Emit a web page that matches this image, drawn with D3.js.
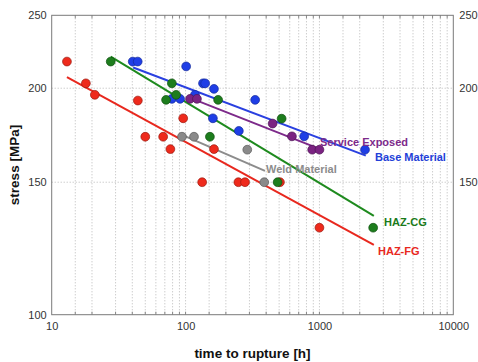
<!DOCTYPE html>
<html>
<head>
<meta charset="utf-8">
<script src="https://cdn.jsdelivr.net/npm/d3@7"></script>
<style>
  html, body { margin: 0; padding: 0; background: #fff; }
  svg { display: block; font-family: "Liberation Sans", Arial, sans-serif; }
</style>
</head>
<body>
<svg id="chart" width="478" height="362"></svg>
<script>
// ---- data ----
const xTickValues = [10, 100, 1000, 10000];
const yTickValues = [100, 150, 200, 250];

const hazFgTime   = [13, 18, 21, 44, 50, 68, 77, 96, 163, 133, 248, 278, 507, 1000];
const hazFgStress = [217, 203, 196, 192.6, 172.4, 172.4, 166, 182.4, 166, 150, 150, 150, 150, 130.5];

const baseTime    = [40.3, 43.9, 101, 135, 140, 163, 117.5, 79, 91, 160, 250, 331, 769, 2190];
const baseStress  = [217, 217, 213.8, 203, 203, 199.6, 196, 193.6, 193.6, 182.4, 175.5, 193, 172.6, 165.7];

const serviceTime   = [108, 121.6, 447, 623, 883, 1000];
const serviceStress = [193.6, 193.6, 179.5, 172.6, 165.7, 165.7];

const weldTime   = [94, 115.6, 289, 387];
const weldStress = [172.4, 172.4, 165.7, 150];

const hazCgTime   = [27.6, 79, 71.5, 85, 175, 152, 522, 487, 2520];
const hazCgStress = [217, 203, 193, 196, 193, 172.4, 182.2, 150, 130.5];

// fitted trend lines (time endpoints, stress endpoints)
const hazFgFitTime = [13, 2550],   hazFgFitStress = [206.9, 123.8];
const baseFitTime = [40.6, 2220],  baseFitStress = [213.1, 162.7];
const serviceFitTime = [108, 1000], serviceFitStress = [194.2, 166.1];
const weldFitTime = [94, 392],     weldFitStress = [173.4, 155.3];
const hazCgFitTime = [27.6, 2550], hazCgFitStress = [220.3, 135.3];

const seriesNames = ["HAZ-FG", "Base Material", "Service Exposed", "Weld Material", "HAZ-CG"];

// ---- styles ----
const styles = {
  "HAZ-FG":          { fill: "#ee2a1c", stroke: "#9a1a10", line: "#e8281e", text: "#e8281e", lx: 378, ly: 255 },
  "Base Material":   { fill: "#1f3ee6", stroke: "#142a9a", line: "#2a40e0", text: "#2240d8", lx: 375, ly: 160.5 },
  "Service Exposed": { fill: "#7b2382", stroke: "#4e1555", line: "#7d2a8a", text: "#7d2a8a", lx: 320, ly: 145.5 },
  "Weld Material":   { fill: "#8a8a8a", stroke: "#5a5a5a", line: "#8c8c8c", text: "#8c8c8c", lx: 266, ly: 173 },
  "HAZ-CG":          { fill: "#1d7d1d", stroke: "#0f4f0f", line: "#1e8a1e", text: "#1a7a1a", lx: 384, ly: 225.5 }
};

const series = [
  { name: "HAZ-FG", t: hazFgTime, s: hazFgStress, ft: hazFgFitTime, fs: hazFgFitStress },
  { name: "Base Material", t: baseTime, s: baseStress, ft: baseFitTime, fs: baseFitStress },
  { name: "Service Exposed", t: serviceTime, s: serviceStress, ft: serviceFitTime, fs: serviceFitStress },
  { name: "Weld Material", t: weldTime, s: weldStress, ft: weldFitTime, fs: weldFitStress },
  { name: "HAZ-CG", t: hazCgTime, s: hazCgStress, ft: hazCgFitTime, fs: hazCgFitStress }
];

// ---- layout ----
const L = 51.7, R = 453.3, T = 15.3, B = 314.7;
const svg = d3.select("#chart");
const x = d3.scaleLog().domain([10, 10000]).range([L, R]);
const y = d3.scaleLog().domain([100, 250]).range([B, T]);

// minor grid values
const minorX = [];
[10, 100, 1000].forEach(d => {
  [1.5, 2, 3, 4, 5, 6, 7, 8, 9].forEach(m => minorX.push(d * m));
  if (d > 10) minorX.push(d);
});

const grid = svg.append("g");
grid.selectAll("line.vx").data(minorX).enter().append("line")
  .attr("x1", d => x(d)).attr("x2", d => x(d))
  .attr("y1", T).attr("y2", B)
  .attr("stroke", "#b8b8b8").attr("stroke-width", 1)
  .attr("stroke-dasharray", "1,2");
grid.selectAll("line.hy").data([150, 200]).enter().append("line")
  .attr("x1", L).attr("x2", R)
  .attr("y1", d => y(d)).attr("y2", d => y(d))
  .attr("stroke", "#b8b8b8").attr("stroke-width", 1)
  .attr("stroke-dasharray", "1,2");

// axes
const fmt = d => String(d);
const axB = d3.axisBottom(x).tickValues(xTickValues).tickFormat(fmt).tickSize(0).tickPadding(8);
const axL = d3.axisLeft(y).tickValues(yTickValues).tickFormat(fmt).tickSize(0).tickPadding(5);
const axR = d3.axisRight(y).tickValues([150, 200, 250]).tickFormat(fmt).tickSize(0).tickPadding(6);

function styleAxis(g) {
  g.select(".domain").remove();
  g.selectAll("text").attr("fill", "#333").style("font-size", "11px")
   .style("font-family", "'Liberation Sans', Arial, sans-serif");
}
svg.append("g").attr("transform", `translate(0,${B})`).call(axB).call(styleAxis);
svg.append("g").attr("transform", `translate(${L},0)`).call(axL).call(styleAxis);
svg.append("g").attr("transform", `translate(${R},0)`).call(axR).call(styleAxis);

// minor tick marks inside the frame
const tk = svg.append("g").attr("stroke", "#888").attr("stroke-width", 1);
tk.selectAll("line.bt").data(minorX).enter().append("line")
  .attr("x1", d => x(d)).attr("x2", d => x(d)).attr("y1", B).attr("y2", B - 3);
tk.selectAll("line.tt").data(minorX).enter().append("line")
  .attr("x1", d => x(d)).attr("x2", d => x(d)).attr("y1", T).attr("y2", T + 3);

// frame
svg.append("rect").attr("x", L).attr("y", T).attr("width", R - L).attr("height", B - T)
  .attr("fill", "none").attr("stroke", "#7a7a7a").attr("stroke-width", 1);

// fit lines
const lineGen = d3.line().x(d => x(d[0])).y(d => y(d[1]));
series.forEach(sr => {
  svg.append("path")
    .datum(sr.ft.map((t, i) => [t, sr.fs[i]]))
    .attr("d", lineGen)
    .attr("fill", "none")
    .attr("stroke", styles[sr.name].line)
    .attr("stroke-width", 2);
});

// points
series.forEach(sr => {
  svg.append("g").selectAll("circle")
    .data(sr.t.map((t, i) => [t, sr.s[i]]))
    .enter().append("circle")
    .attr("cx", d => x(d[0])).attr("cy", d => y(d[1]))
    .attr("r", 4.4)
    .attr("fill", styles[sr.name].fill)
    .attr("stroke", styles[sr.name].stroke)
    .attr("stroke-width", 0.7);
});

// series labels
series.forEach(sr => {
  const st = styles[sr.name];
  svg.append("text")
    .attr("x", st.lx).attr("y", st.ly)
    .attr("fill", st.text)
    .style("font-size", "11px").style("font-weight", "bold")
    .text(sr.name);
});

// axis titles
svg.append("text")
  .attr("x", (L + R) / 2).attr("y", 357.5)
  .attr("text-anchor", "middle")
  .style("font-size", "13.5px").style("font-weight", "bold").attr("fill", "#111")
  .text("time to rupture [h]");
svg.append("text")
  .attr("transform", `translate(18.5,${(T + B) / 2}) rotate(-90)`)
  .attr("text-anchor", "middle")
  .style("font-size", "13.5px").style("font-weight", "bold").attr("fill", "#111")
  .text("stress [MPa]");
</script>
</body>
</html>
